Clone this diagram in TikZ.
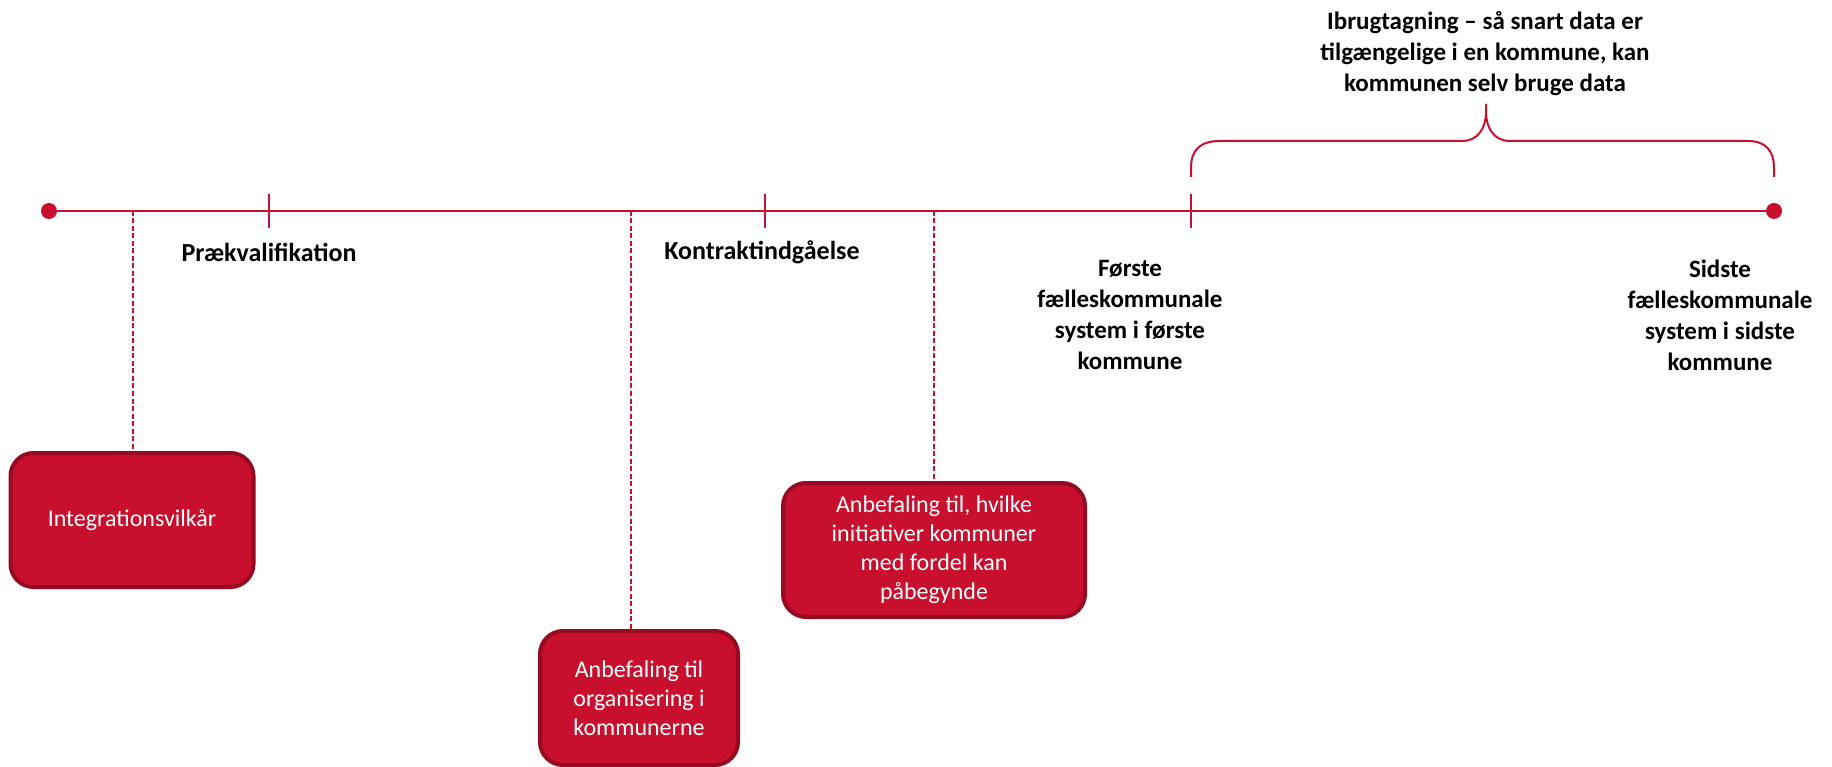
\documentclass[tikz,border=0pt]{standalone}
\usepackage{fontspec}
\setmainfont{Carlito}
\usepackage{tikz}

\definecolor{kred}{HTML}{C8102E}
\definecolor{kdark}{HTML}{960A22}

\tikzset{
	dot/.style={circle,fill=kred,inner sep=0pt,minimum size=16pt},
	milestone/.style={font=\bfseries\fontsize{25}{31}\selectfont,align=center,text=black},
	bigmilestone/.style={milestone,font=\bfseries\fontsize{26}{31}\selectfont},
	infobox/.style={rounded corners=23pt,fill=kred,draw=kdark,line width=4pt,text=white,
		align=center,font=\fontsize{24}{29}\selectfont,minimum height=134pt,inner sep=0pt},
	tline/.style={kred,line width=2.5pt},
	guide/.style={kred,line width=2pt,dash pattern=on 5pt off 2.5pt},
}

\begin{document}
\begin{tikzpicture}[x=1pt,y=-1pt]
	\useasboundingbox (0,0) rectangle (1832,767);

	% tidslinje
	\node[dot] (start) at (49,211) {};
	\node[dot] (slut) at (1774,211) {};
	\draw[tline] (start) -- (slut);
	\foreach \x/\n in {269/t1,765/t2,1191/t3} {
		\coordinate (\n) at (\x,211);
		\draw[tline] (\x,194) -- (\x,228);
	}

	\node[bigmilestone] (prae) at (269,252) {Prækvalifikation};
	\node[bigmilestone] (kontrakt) at (762,252) {Kontraktindgåelse};
	\node[milestone] (forste) at (1130,315) {Første\\fælleskommunale\\system i første\\kommune};
	\node[milestone] (sidste) at (1720,315) {Sidste\\fælleskommunale\\system i sidste\\kommune};
	\node[milestone] (ibrug) at (1485,54) {Ibrugtagning – så snart data er\\tilgængelige i en kommune, kan\\kommunen selv bruge data};

	% klamme
	\draw[kred,line width=2pt] (t3 |- 0,177) -- (1191,168)
	.. controls (1191,150) and (1200,141) .. (1220,141) -- (1462,141)
	.. controls (1478,141) and (1486,128) .. (1486,112) -- (1486,104)
	-- (1486,112) .. controls (1486,128) and (1494,141) .. (1510,141) -- (1748,141)
	.. controls (1765,141) and (1774,150) .. (1774,168) -- (1774,177);

	% leverancer
	\node[infobox,minimum width=243pt] (vilkar) at (132,520) {Integrationsvilkår};
	\node[infobox,minimum width=198pt] (organisering) at (639,698) {Anbefaling til\\organisering i\\kommunerne};
	\node[infobox,minimum width=302pt] (initiativ) at (934,550) {Anbefaling til, hvilke\\initiativer kommuner\\med fordel kan\\påbegynde};

	\coordinate (d1) at (133,211);
	\coordinate (d2) at (631,211);
	\coordinate (d3) at (934,211);
	\draw[guide] (d1) -- (d1 |- vilkar.north);
	\draw[guide] (d2) -- (d2 |- organisering.north);
	\draw[guide] (d3) -- (d3 |- initiativ.north);
\end{tikzpicture}
\end{document}
